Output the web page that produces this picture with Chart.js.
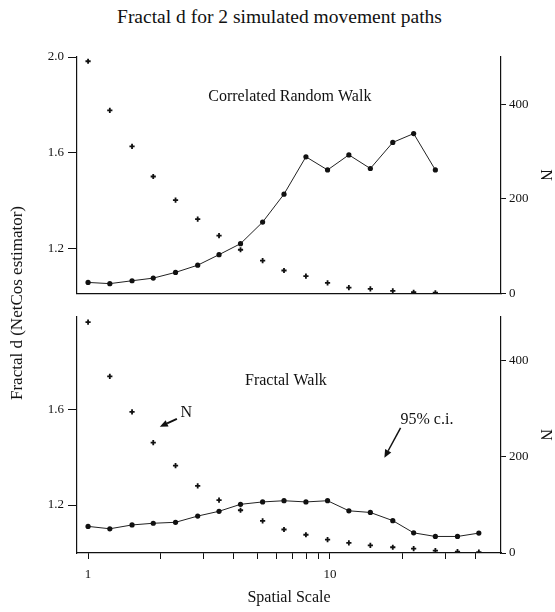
<!DOCTYPE html>
<html><head><meta charset="utf-8">
<script src="https://cdn.jsdelivr.net/npm/chart.js@4.4.0/dist/chart.umd.min.js"></script>
<style>
html,body{margin:0;padding:0;background:#fff;width:555px;height:612px;overflow:hidden;position:relative;font-family:"Liberation Serif",serif;color:#111;}
#title{position:absolute;left:0;top:5px;width:555px;text-align:center;font-size:19.5px;line-height:24px;padding-left:2px;}
#ytitle{position:absolute;left:17px;top:303px;transform:translate(-50%,-50%) rotate(-90deg);white-space:nowrap;font-size:17px;}
canvas{position:absolute;left:0;}
#c1{top:0}
#c2{top:305px}
</style></head><body>
<div id="title">Fractal d for 2 simulated movement paths</div>
<canvas id="c1" width="555" height="305"></canvas>
<canvas id="c2" width="555" height="307"></canvas>
<div id="ytitle">Fractal d (NetCos estimator)</div>
<script>
// ---- data ----
const scaleTop = [1.00, 1.23, 1.52, 1.86, 2.30, 2.84, 3.48, 4.27, 5.27, 6.46, 7.96, 9.78, 11.98, 14.7, 18.2, 22.2, 27.3];
const dTop = [1.058, 1.053, 1.065, 1.076, 1.100, 1.130, 1.174, 1.220, 1.310, 1.427, 1.583, 1.528, 1.591, 1.534, 1.643, 1.680, 1.528];
const nTop = [491, 387, 311, 247, 197, 157, 122, 92, 69, 48, 36, 22, 12, 9, 5, 2, 1];

const scaleBottom = [1.00, 1.23, 1.52, 1.86, 2.30, 2.84, 3.48, 4.27, 5.27, 6.46, 7.96, 9.78, 11.98, 14.7, 18.2, 22.2, 27.3, 33.7, 41.3];
const dBottom = [1.111, 1.101, 1.117, 1.124, 1.128, 1.154, 1.174, 1.203, 1.213, 1.218, 1.213, 1.218, 1.176, 1.169, 1.135, 1.084, 1.069, 1.069, 1.083];
const nBottom = [481, 368, 294, 230, 182, 140, 110, 89, 67, 49, 38, 28, 21, 16, 12, 9, 5, 3, 2];

const xTicks = [1, 2, 3, 4, 5, 6, 7, 8, 9, 10, 20, 30, 40];
const xLabels = [1, 10];
const dTicksTop = [1.2, 1.6, 2.0];
const dTicksBottom = [1.2, 1.6];
const nTicks = [0, 200, 400];

const notesTop = {
  texts: [{text: 'Correlated Random Walk', x: 6.83, y: 1.835}],
  arrows: []
};
const notesBottom = {
  texts: [
    {text: 'Fractal Walk', x: 6.58, y: 1.72},
    {text: 'N', x: 2.55, y: 1.585},
    {text: '95% c.i.', x: 25.2, y: 1.555}
  ],
  arrows: [
    {x1: 2.33, y1: 1.559, x2: 1.98, y2: 1.527, w: 2},
    {x1: 19.6, y1: 1.522, x2: 16.8, y2: 1.397, w: 1.5}
  ]
};

// ---- helpers ----
const INK = '#111';
const SERIF = '"Liberation Serif", "Times New Roman", serif';

const notesPlugin = {
  id: 'notes',
  afterDatasetsDraw(chart, args, opts) {
    const {ctx} = chart;
    const xs = chart.scales.x, ys = chart.scales.yL;
    ctx.save();
    ctx.fillStyle = INK; ctx.strokeStyle = INK;
    ctx.font = '16px ' + SERIF;
    ctx.textAlign = 'center'; ctx.textBaseline = 'middle';
    (opts.texts || []).forEach(t => {
      ctx.fillText(t.text, xs.getPixelForValue(t.x), ys.getPixelForValue(t.y));
    });
    (opts.arrows || []).forEach(a => {
      const x1 = xs.getPixelForValue(a.x1), y1 = ys.getPixelForValue(a.y1);
      const x2 = xs.getPixelForValue(a.x2), y2 = ys.getPixelForValue(a.y2);
      const ang = Math.atan2(y2 - y1, x2 - x1);
      const hl = 8, hw = 3.5;
      const bx = x2 - hl * Math.cos(ang), by = y2 - hl * Math.sin(ang);
      ctx.lineWidth = a.w;
      ctx.beginPath(); ctx.moveTo(x1, y1); ctx.lineTo(bx, by); ctx.stroke();
      ctx.beginPath();
      ctx.moveTo(x2, y2);
      ctx.lineTo(bx + hw * Math.sin(ang), by - hw * Math.cos(ang));
      ctx.lineTo(bx - hw * Math.sin(ang), by + hw * Math.cos(ang));
      ctx.closePath(); ctx.fill();
    });
    ctx.restore();
  }
};

function toPts(xs, ys) { return xs.map((x, i) => ({x: x, y: ys[i]})); }

function makeChart(id, cfg) {
  const datasets = [
    {
      label: 'Fractal d', data: toPts(cfg.xs, cfg.d), yAxisID: 'yL',
      borderColor: '#222', borderWidth: 1, showLine: true, tension: 0,
      pointRadius: 2.6, pointBackgroundColor: INK, pointBorderColor: INK, pointBorderWidth: 0
    },
    {
      label: 'N', data: toPts(cfg.xs, cfg.n), yAxisID: 'yR',
      showLine: false, pointStyle: 'cross', pointRadius: 2.6,
      pointBorderColor: INK, pointBorderWidth: 1.8, borderColor: INK
    }
  ];
  const tickFont = {family: SERIF, size: 13};
  return new Chart(document.getElementById(id), {
    type: 'line',
    data: {datasets},
    plugins: [notesPlugin],
    options: {
      responsive: false, animation: false, devicePixelRatio: 1,
      layout: {padding: {top: cfg.padTop, left: 0, right: 0, bottom: 0}},
      plugins: {legend: {display: false}, tooltip: {enabled: false}, notes: cfg.notes},
      scales: {
        x: {
          type: 'logarithmic', min: 0.9, max: 51,
          afterBuildTicks: s => { s.ticks = xTicks.map(v => ({value: v})); },
          afterFit: s => { s.height = cfg.xHeight; },
          ticks: {
            display: cfg.showX, autoSkip: false, maxRotation: 0, minRotation: 0,
            color: INK, font: tickFont, padding: 8,
            callback: v => xLabels.includes(v) ? String(v) : ''
          },
          grid: {drawOnChartArea: false, drawTicks: cfg.showX, tickLength: 6, tickColor: INK, tickWidth: 1},
          border: {display: true, color: INK, width: 1.2},
          title: {display: cfg.showX, text: 'Spatial Scale', color: INK,
                  font: {family: SERIF, size: 16}, padding: {top: 0, bottom: 5}}
        },
        yL: {
          position: 'left', min: cfg.dMin, max: cfg.dMax,
          afterBuildTicks: s => { s.ticks = cfg.dTicks.map(v => ({value: v})); },
          afterFit: s => { s.width = 77; },
          ticks: {color: INK, font: tickFont, padding: 4, callback: v => Number(v).toFixed(1)},
          grid: {drawOnChartArea: false, tickLength: 9, tickColor: INK, tickWidth: 1},
          border: {display: true, color: INK, width: 1.2}
        },
        yR: {
          position: 'right', min: 0, max: cfg.nMax,
          afterBuildTicks: s => { s.ticks = nTicks.map(v => ({value: v})); },
          afterFit: s => { s.width = 54; },
          ticks: {color: INK, font: {family: SERIF, size: 13}, padding: 3, callback: v => String(v)},
          grid: {drawOnChartArea: false, tickLength: 5, tickColor: INK, tickWidth: 1},
          border: {display: true, color: INK, width: 1.2},
          title: {display: true, text: 'N', color: INK, font: {family: SERIF, size: 16}, padding: 0}
        }
      }
    }
  });
}

makeChart('c1', {
  xs: scaleTop, d: dTop, n: nTop, notes: notesTop,
  padTop: 57, xHeight: 7, showX: false,
  dMin: 1.013, dMax: 2.0, dTicks: dTicksTop, nMax: 500
});
makeChart('c2', {
  xs: scaleBottom, d: dBottom, n: nBottom, notes: notesBottom,
  padTop: 7, xHeight: 59, showX: true,
  dMin: 1.0, dMax: 1.985, dTicks: dTicksBottom, nMax: 492
});
</script>
</body></html>
